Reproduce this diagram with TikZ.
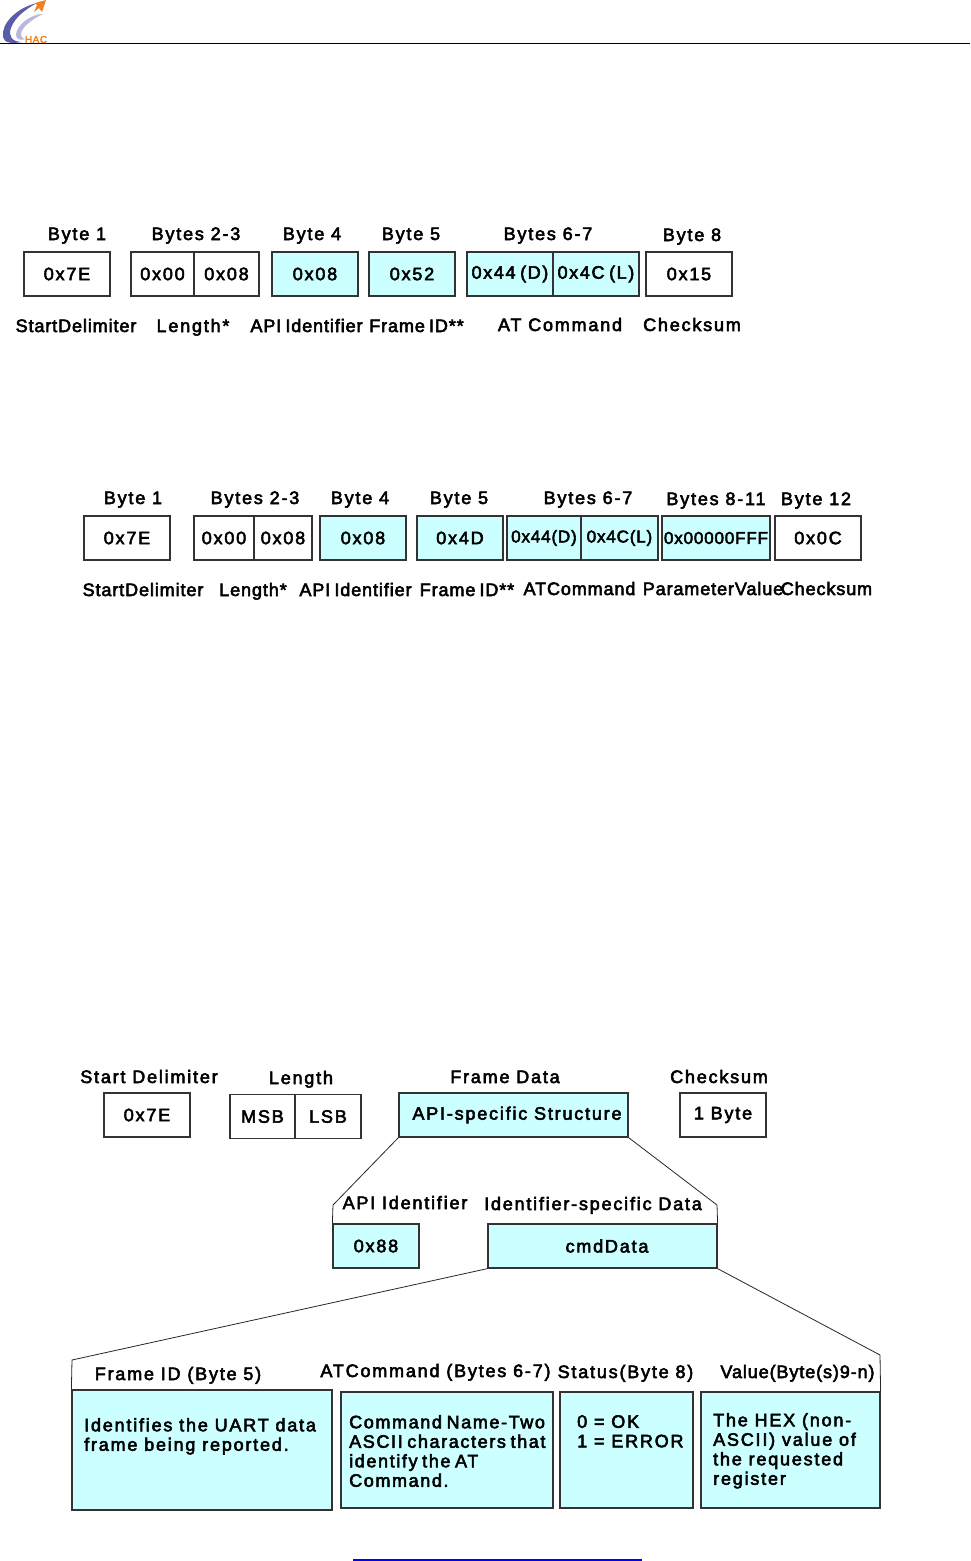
\documentclass[tikz,border=0pt]{standalone}
\usepackage{xcolor}
\usepackage{fontspec}
\setmainfont{Liberation Sans}[FakeBold=3,LetterSpace=10]
\newfontfamily\tightfont{Liberation Sans}[FakeBold=3,LetterSpace=5,WordSpace=0.7]
\newfontfamily\midfont{Liberation Sans}[FakeBold=3,LetterSpace=9,WordSpace=0.7]
\usepackage{tikz}
\usetikzlibrary{positioning,calc}
\definecolor{cellcyan}{HTML}{CCFFFF}
\definecolor{logopurple}{HTML}{5C5CA8}
\definecolor{logolilac}{HTML}{B8B8DC}
\definecolor{logoorange}{HTML}{F08020}
\definecolor{linkblue}{HTML}{0000FF}

\begin{document}
\begin{tikzpicture}[
    x=1pt, y=-1pt,
    cell/.style={draw=black!80, line width=1.2pt, fill=white, minimum height=44pt, inner sep=0pt, font=\fontsize{18}{20}\selectfont},
    cyancell/.style={cell, fill=cellcyan},
    wide/.style={minimum width=#1},
    head/.style={inner sep=0pt, text height=16pt, text depth=4pt, font=\fontsize{18}{20}\selectfont},
    tight/.style={inner sep=0pt, text height=16pt, text depth=4pt, font=\tightfont\fontsize{18}{20}\selectfont},
    body/.style={inner sep=0pt, anchor=north west, align=left, font=\fontsize{18}{19.5}\selectfont},
    bodymid/.style={body, font=\midfont\fontsize{18}{19.5}\selectfont},
    brace/.style={draw=black!85, line width=0.8pt}
]
    \useasboundingbox (0,0) rectangle (970,1561);

    % page furniture
    \coordinate (ruleL) at (0,43.5);
    \coordinate (ruleR) at (970,43.5);
    \draw[line width=0.9pt] (ruleL) -- (ruleR);
    \coordinate (linkL) at (353,1559);
    \coordinate (linkR) at (642,1559);
    \fill[linkblue] (linkL) rectangle ([yshift=-2pt]linkR);

    % logo
    \fill[logopurple] (37,3) .. controls (16,8) and (1,24) .. (3,37) .. controls (4,43) and (12,44) .. (22,42) .. controls (12,42) and (8,36) .. (11,28) .. controls (15,17) and (26,9) .. (37,3) -- cycle;
    \fill[logolilac] (43,14) .. controls (30,14) and (16,26) .. (16,35) .. controls (16,39) and (20,41) .. (25,39) .. controls (20,38) and (20,33) .. (23,29) .. controls (27,23) and (35,18) .. (43,14) -- cycle;
    \fill[logoorange] (46,0) -- (42,12) -- (39,8) -- (34,12) -- (37,5) -- (35,3) -- cycle;
    \node[inner sep=0pt, text=logoorange, font=\tightfont\fontsize{10}{10}\selectfont] (logotext) at (36,39.5) {HAC};

    % first frame
    \node[head] (a1) at (77,234) {Byte 1};
    \node[head] (a2) at (196,234) {Bytes 2-3};
    \node[head] (a3) at (312,234) {Byte 4};
    \node[head] (a4) at (411,234) {Byte 5};
    \node[head] (a5) at (548,234) {Bytes 6-7};
    \node[head] (a6) at (692,235) {Byte 8};

    \node[cell, wide=86pt] (b1) at (67,274) {0x7E};
    \node[cell, wide=63pt] (b2) at (162.5,274) {0x00};
    \node[cell, wide=65pt] (b3) at (226.5,274) {0x08};
    \node[cyancell, wide=86pt] (b4) at (315,274) {0x08};
    \node[cyancell, wide=86pt] (b5) at (412,274) {0x52};
    \node[cyancell, wide=86pt] (b6) at (510,274) {\midfont 0x44 (D)};
    \node[cyancell, wide=86pt] (b7) at (596,274) {\midfont 0x4C (L)};
    \node[cell, wide=86pt] (b8) at (689,274) {0x15};

    \node[tight] (c1) at (76,326) {StartDelimiter};
    \node[head] (c2) at (193,326) {Length*};
    \node[tight] (c3) at (306.5,326) {API Identifier};
    \node[tight] (c4) at (416.5,326) {Frame ID**};
    \node[head] (c5) at (560,325) {AT Command};
    \node[head] (c6) at (692,325) {Checksum};

    % second frame
    \node[head] (d1) at (133,498) {Byte 1};
    \node[head] (d2) at (255,498) {Bytes 2-3};
    \node[head] (d3) at (360,498) {Byte 4};
    \node[head] (d4) at (459,498) {Byte 5};
    \node[head] (d5) at (588,498) {Bytes 6-7};
    \node[head] (d6) at (716,499) {Bytes 8-11};
    \node[head] (d7) at (816,499) {Byte 12};

    \node[cell, wide=86pt] (e1) at (127,538) {0x7E};
    \node[cell, wide=60pt] (e2) at (224,538) {0x00};
    \node[cell, wide=58pt] (e3) at (283,538) {0x08};
    \node[cyancell, wide=86pt] (e4) at (363,538) {0x08};
    \node[cyancell, wide=86pt] (e5) at (460,538) {0x4D};
    \node[cyancell, wide=74pt] (e6) at (544,538) {\tightfont\fontsize{17}{20}\selectfont 0x44(D)};
    \node[cyancell, wide=77pt] (e7) at (619.5,538) {\tightfont\fontsize{17}{20}\selectfont 0x4C(L)};
    \node[cyancell, wide=108pt] (e8) at (716,538) {\tightfont\fontsize{17}{20}\selectfont 0x00000FFF};
    \node[cell, wide=86pt] (e9) at (818,538) {0x0C};

    \node[tight] (f1) at (143,590) {StartDelimiter};
    \node[tight] (f2) at (253,590) {Length*};
    \node[tight] (f3) at (355.5,590) {API Identifier};
    \node[tight] (f4) at (467,590) {Frame ID**};
    \node[tight] (f5) at (579.5,589) {ATCommand};
    \node[tight] (f6) at (713,589) {ParameterValue};
    \node[tight] (f7) at (826.5,589) {Checksum};

    % API structure
    \node[head] (g1) at (149,1077) {Start Delimiter};
    \node[head] (g2) at (301,1078) {Length};
    \node[head] (g3) at (505,1077) {Frame Data};
    \node[head] (g4) at (719,1077) {Checksum};

    \node[cell, wide=86pt] (start) at (147,1115) {0x7E};
    \node[cell, wide=65pt] (msb) at (262.5,1116.5) {MSB};
    \node[cell, wide=66pt] (lsb) at (328,1116.5) {LSB};
    \node[cyancell, wide=229pt] (spec) at (513.5,1115) {\hspace*{7pt}API-specific Structure};
    \node[cell, wide=86pt] (sum) at (723,1115) {1 Byte};

    \node[head] (h1) at (405,1203) {API Identifier};
    \node[head] (h2) at (593,1204) {Identifier-specific Data};
    \node[cyancell, wide=86pt] (apiid) at (376,1246) {0x88};
    \node[cyancell, wide=229pt] (cmd) at (602.5,1246) {\hspace*{9pt}cmdData};

    \coordinate (bendA) at (333,1205);
    \coordinate (bendB) at (717,1205);
    \draw[brace] (spec.south west) -- (bendA) -- (apiid.north west);
    \draw[brace] (spec.south east) -- (bendB) -- (cmd.north east);

    \node[head] (k1) at (178,1374) {Frame ID (Byte 5)};
    \node[head] (k2) at (435.5,1371) {ATCommand (Bytes 6-7)};
    \node[head] (k3) at (625.5,1372) {Status(Byte 8)};
    \node[tight] (k4) at (797.5,1372) {Value(Byte(s)9-n)};

    \node[cyancell, wide=260pt, minimum height=120pt] (frameid) at (202,1450) {};
    \node[cyancell, wide=212pt, minimum height=116pt] (atcmd) at (447,1450) {};
    \node[cyancell, wide=133pt, minimum height=116pt] (status) at (626.5,1450) {};
    \node[cyancell, wide=179pt, minimum height=116pt] (value) at (790.5,1450) {};

    \node[body] (t1) at (84,1418) {Identifies the UART data\\frame being reported.};
    \node[bodymid] (t2) at (349,1415) {Command Name-Two\\ASCII characters that\\identify the AT\\Command.};
    \node[body] (t3) at (577,1415) {0 = OK\\1 = ERROR};
    \node[body] (t4) at (713,1413) {The HEX (non-\\ASCII) value of\\the requested\\register};

    \coordinate (bendC) at (72,1360);
    \coordinate (bendD) at (880,1355);
    \draw[brace] (cmd.south west) -- (bendC) -- (frameid.north west);
    \draw[brace] (cmd.south east) -- (bendD) -- (value.north east);
\end{tikzpicture}
\end{document}
